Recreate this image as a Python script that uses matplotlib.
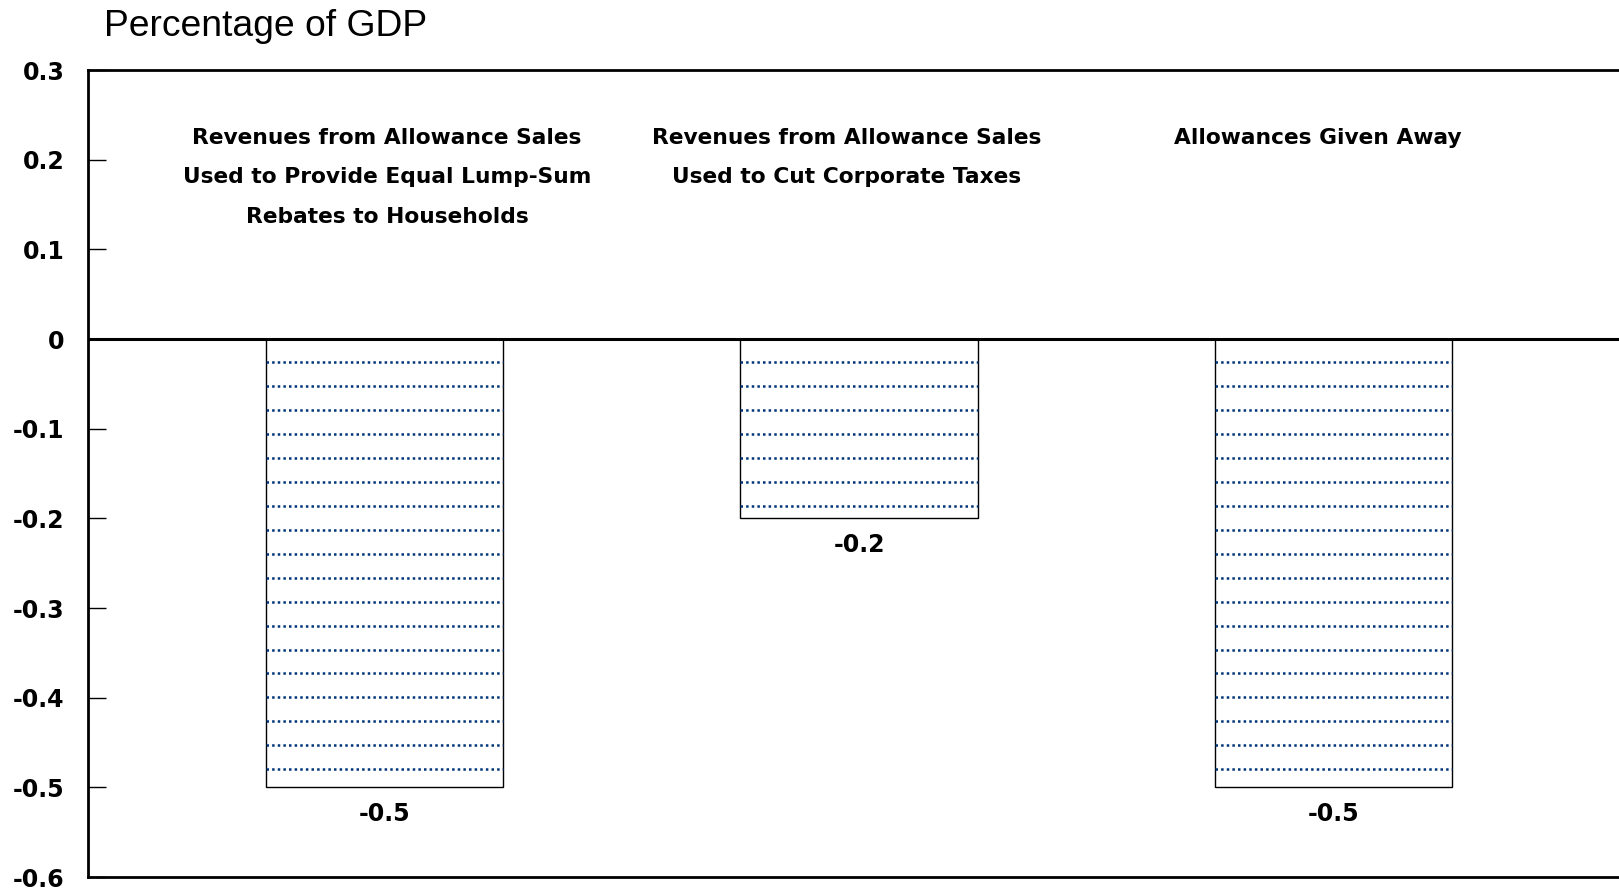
import numpy as np
import matplotlib
matplotlib.use("Agg")
import matplotlib.pyplot as plt

# values, percentage of GDP
categories = [
    "Revenues from Allowance Sales\nUsed to Provide Equal Lump-Sum\nRebates to Households",
    "Revenues from Allowance Sales\nUsed to Cut Corporate Taxes",
    "Allowances Given Away",
]
values = [-0.5, -0.2, -0.5]
value_labels = ["-0.5", "-0.2", "-0.5"]
yticks = [0.3, 0.2, 0.1, 0, -0.1, -0.2, -0.3, -0.4, -0.5, -0.6]
ytick_labels = ["0.3", "0.2", "0.1", "0", "-0.1", "-0.2", "-0.3", "-0.4", "-0.5", "-0.6"]

label_shift = [0.005, -0.027, -0.034]   # small horizontal nudges for the titles
hatch_step = 0.02674                     # spacing of the dotted fill lines
hatch_color = "#003479"

fig = plt.figure(figsize=(16.19, 8.93), dpi=100)
ax = fig.add_axes([0.0544, 0.0179, 0.9456, 0.9037])

x = np.arange(len(values))
width = 0.5
bars = ax.bar(x, values, width=width, color="white", edgecolor="black",
              linewidth=1.0, zorder=2)

# dotted horizontal fill inside each bar
for xi, v in zip(x, values):
    n = int(np.floor(abs(v) / hatch_step - 0.95)) + 1
    ys = -(np.arange(n) + 0.95) * hatch_step
    ax.hlines(ys, xi - width / 2, xi + width / 2, colors=hatch_color,
              linewidth=1.8, linestyles=(0, (1.0, 1.25)), zorder=3)

ax.axhline(0, color="black", linewidth=2.2, zorder=4)

for xi, v, lab in zip(x, values, value_labels):
    ax.annotate(lab, (xi, v), xytext=(0, -19), textcoords="offset points",
                ha="center", va="center", fontsize=17, fontweight="bold",
                family="DejaVu Sans")

for xi, lab, dx in zip(x, categories, label_shift):
    ax.text(xi + dx, 0.235, lab, ha="center", va="top", fontsize=15.7,
            fontweight="bold", family="DejaVu Sans", linespacing=2.2)

ax.set_xlim(-0.6249, 2.6017)
ax.set_ylim(-0.6, 0.3)
ax.set_xticks([])
ax.set_yticks(yticks)
ax.set_yticklabels(ytick_labels, fontsize=17, fontweight="bold",
                   family="DejaVu Sans")
ax.tick_params(axis="y", direction="in", length=13, width=1.0, pad=17)

for side in ["left", "top", "bottom"]:
    ax.spines[side].set_linewidth(2.0)
ax.spines["right"].set_visible(False)

fig.text(104 / 1619, 1 - 26 / 893, "Percentage of GDP", ha="left", va="center",
         fontsize=26.8, family="Liberation Sans")

fig.savefig("out.png", dpi=100)
